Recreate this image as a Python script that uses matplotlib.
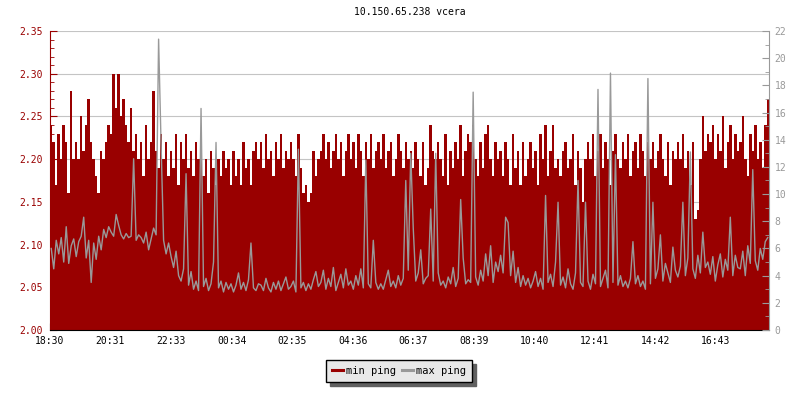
#!/usr/bin/env python3
"""Ping chart: min ping (filled, left axis) and max ping (line, right axis)."""

import numpy as np
import matplotlib
matplotlib.use("Agg")
matplotlib.rcParams.update({
    "font.family": "monospace",
    "font.monospace": ["DejaVu Sans Mono", "Liberation Mono"],
})
import matplotlib.pyplot as plt
import matplotlib.ticker as mticker
from matplotlib.lines import Line2D

TITLE = "10.150.65.238 vcera"

# 5-minute samples from 18:30, 12 per hour
STEP_MIN = 5

# min ping (left axis)
min_ping = [
    2.24, 2.22, 2.17, 2.23, 2.20, 2.24, 2.22, 2.16, 2.28, 2.20, 2.22, 2.20,
    2.25, 2.21, 2.24, 2.27, 2.22, 2.20, 2.18, 2.16, 2.21, 2.20, 2.22, 2.24,
    2.23, 2.30, 2.26, 2.30, 2.25, 2.27, 2.24, 2.22, 2.26, 2.21, 2.23, 2.20,
    2.22, 2.18, 2.24, 2.20, 2.22, 2.28, 2.21, 2.19, 2.23, 2.20, 2.22, 2.18,
    2.21, 2.19, 2.23, 2.17, 2.22, 2.20, 2.23, 2.19, 2.21, 2.18, 2.22, 2.20,
    2.22, 2.18, 2.20, 2.16, 2.21, 2.19, 2.17, 2.20, 2.18, 2.21, 2.19, 2.20,
    2.17, 2.21, 2.18, 2.20, 2.17, 2.22, 2.19, 2.20, 2.17, 2.21, 2.22, 2.20,
    2.22, 2.19, 2.23, 2.20, 2.21, 2.18, 2.22, 2.20, 2.23, 2.19, 2.21, 2.20,
    2.22, 2.20, 2.18, 2.23, 2.19, 2.16, 2.17, 2.15, 2.16, 2.21, 2.18, 2.20,
    2.21, 2.23, 2.20, 2.22, 2.19, 2.21, 2.23, 2.20, 2.22, 2.18, 2.21, 2.23,
    2.20, 2.22, 2.19, 2.23, 2.21, 2.18, 2.22, 2.20, 2.23, 2.19, 2.21, 2.22,
    2.20, 2.23, 2.19, 2.21, 2.22, 2.18, 2.20, 2.23, 2.21, 2.19, 2.22, 2.20,
    2.21, 2.19, 2.22, 2.20, 2.18, 2.22, 2.17, 2.19, 2.24, 2.21, 2.20, 2.22,
    2.20, 2.18, 2.23, 2.17, 2.21, 2.19, 2.22, 2.20, 2.24, 2.18, 2.21, 2.23,
    2.22, 2.24, 2.20, 2.18, 2.22, 2.19, 2.23, 2.24, 2.20, 2.18, 2.22, 2.20,
    2.21, 2.18, 2.22, 2.20, 2.17, 2.23, 2.19, 2.21, 2.17, 2.22, 2.18, 2.20,
    2.22, 2.19, 2.21, 2.17, 2.23, 2.20, 2.24, 2.18, 2.21, 2.24, 2.19, 2.20,
    2.18, 2.21, 2.22, 2.19, 2.20, 2.23, 2.17, 2.21, 2.19, 2.15, 2.20, 2.22,
    2.20, 2.23, 2.18, 2.21, 2.23, 2.19, 2.22, 2.20, 2.17, 2.21, 2.23, 2.20,
    2.19, 2.22, 2.20, 2.23, 2.18, 2.21, 2.22, 2.19, 2.23, 2.21, 2.18, 2.22,
    2.20, 2.22, 2.19, 2.21, 2.23, 2.20, 2.18, 2.22, 2.17, 2.21, 2.20, 2.22,
    2.20, 2.23, 2.19, 2.21, 2.17, 2.22, 2.13, 2.14, 2.20, 2.25, 2.21, 2.23,
    2.22, 2.24, 2.20, 2.23, 2.21, 2.25, 2.19, 2.22, 2.24, 2.20, 2.23, 2.21,
    2.22, 2.25, 2.20, 2.18, 2.23, 2.21, 2.24, 2.20, 2.22, 2.19, 2.24, 2.27,
]

# max ping (right axis)
max_ping = [
    6.0, 4.5, 6.6, 5.6, 6.8, 5.0, 7.6, 4.9, 6.2, 6.7, 5.4, 6.5,
    6.9, 8.3, 5.3, 6.6, 3.5, 6.4, 5.2, 6.9, 5.9, 7.4, 6.8, 7.6,
    7.2, 6.9, 8.5, 7.7, 7.0, 6.7, 7.1, 6.8, 6.9, 12.6, 6.6, 7.0,
    6.8, 6.4, 7.2, 5.9, 6.7, 7.5, 7.0, 21.4, 13.6, 6.6, 5.6, 6.4,
    5.4, 4.6, 5.8, 4.0, 3.6, 4.5, 11.5, 3.3, 4.3, 3.0, 3.6, 2.9,
    16.3, 3.2, 3.8, 2.9, 3.4, 5.0, 13.8, 3.1, 3.6, 2.8, 3.5, 3.0,
    3.4, 2.8, 3.3, 4.2, 3.0, 3.5, 2.9, 3.7, 6.4, 3.1, 2.9, 3.4,
    3.3, 2.9, 3.8, 3.1, 2.8, 3.5, 3.0, 3.6, 2.9, 3.4, 3.9, 3.0,
    3.2, 3.6, 2.8, 13.3, 3.1, 3.5, 2.9, 3.4, 3.0, 3.7, 4.3, 3.2,
    3.5, 4.4, 3.0, 3.8, 3.2, 4.6, 2.9, 3.5, 4.1, 3.1, 4.5, 3.3,
    3.6, 3.0, 4.0, 3.3, 4.5, 3.1, 12.5, 3.4, 3.1, 6.6, 3.5, 3.0,
    3.4, 3.0, 3.7, 4.4, 3.2, 3.6, 3.1, 4.0, 3.3, 3.8, 11.0, 4.4,
    13.0, 7.5, 3.6, 4.2, 5.9, 3.4, 3.8, 4.0, 8.9, 3.6, 13.0, 4.2,
    3.3, 3.6, 3.1, 3.9, 3.4, 4.6, 3.2, 3.8, 9.6, 5.3, 3.4, 3.7,
    3.5, 17.5, 3.9, 3.3, 4.4, 3.6, 5.6, 4.0, 6.2, 3.5, 5.0, 4.3,
    5.5, 4.2, 8.3, 7.9, 4.0, 5.8, 3.5, 4.6, 3.2, 4.0, 3.3, 3.8,
    3.1, 3.6, 4.3, 3.2, 3.8, 3.0, 9.9, 3.5, 4.1, 3.2, 5.0, 9.4,
    3.3, 3.9, 3.1, 4.5, 3.4, 3.0, 4.2, 11.0, 3.5, 3.2, 9.4, 3.6,
    3.0, 4.1, 3.4, 17.7, 3.2, 3.8, 4.4, 3.1, 18.9, 3.5, 12.9, 3.3,
    4.0, 3.2, 3.6, 3.1, 3.8, 6.5, 3.4, 4.0, 3.2, 3.6, 3.0, 18.5,
    3.4, 9.4, 3.8, 4.5, 7.0, 3.6, 4.9, 4.2, 3.5, 6.1, 4.4, 3.9,
    4.7, 9.4, 4.0, 5.3, 13.1, 4.5, 3.8, 5.5, 4.2, 7.2, 4.6, 5.0,
    4.1, 5.4, 3.6, 4.8, 5.6, 3.9, 5.2, 4.4, 8.3, 4.0, 5.5, 4.6,
    4.5, 5.8, 4.0, 6.2, 4.9, 11.8, 5.1, 4.4, 6.0, 5.2, 6.5, 6.8,
]

tick_minutes = [0, 121, 243, 364, 485, 606, 727, 849, 970, 1091, 1212, 1333]
tick_labels = ["18:30", "20:31", "22:33", "00:34", "02:35", "04:36",
               "06:37", "08:39", "10:40", "12:41", "14:42", "16:43"]

C_MIN = "#990000"
C_MAX = "#999999"
C_GRID = "#c4c4c4"
FS = 7


def main():
    n = len(min_ping)
    edges = np.arange(n + 1) * STEP_MIN
    centers = edges[:-1] + STEP_MIN / 2

    fig = plt.figure(figsize=(8, 4), dpi=100)
    fig.patch.set_facecolor("white")
    ax = fig.add_axes([50 / 800, 1 - 330 / 400, 719 / 800, 299 / 400])
    ax2 = ax.twinx()

    ax.stairs(min_ping, edges, baseline=2.0, fill=True, color=C_MIN,
              linewidth=0, zorder=2)
    ax2.plot(centers, max_ping, color=C_MAX, linewidth=1.0, zorder=3)

    ax.set_xlim(0, edges[-1])
    ax.set_ylim(2.0, 2.35)
    ax2.set_ylim(0, 22)

    # left axis
    ax.yaxis.set_major_locator(mticker.MultipleLocator(0.05))
    ax.yaxis.set_minor_locator(mticker.MultipleLocator(0.01))
    ax.yaxis.set_major_formatter(mticker.FormatStrFormatter("%.2f"))
    ax.tick_params(axis="y", which="major", direction="in", length=5,
                   color=C_MIN, labelcolor=C_MIN, labelsize=FS, pad=5)
    ax.tick_params(axis="y", which="minor", direction="in", length=3,
                   color=C_MIN)

    # right axis
    ax2.yaxis.set_major_locator(mticker.MultipleLocator(2))
    ax2.yaxis.set_minor_locator(mticker.MultipleLocator(1))
    ax2.tick_params(axis="y", which="major", direction="in", length=5,
                    color=C_MAX, labelcolor=C_MAX, labelsize=FS, pad=4)
    ax2.tick_params(axis="y", which="minor", direction="in", length=3,
                    color=C_MAX)

    # x axis
    ax.set_xticks(tick_minutes)
    ax.set_xticklabels(tick_labels)
    ax.tick_params(axis="x", direction="in", length=5, color="black",
                   labelsize=FS, pad=4)

    ax.yaxis.grid(True, color=C_GRID, linewidth=0.8, zorder=0)
    ax.set_axisbelow(True)

    for a in (ax, ax2):
        a.spines["top"].set_visible(False)
    ax.spines["left"].set_color(C_MIN)
    ax.spines["right"].set_visible(False)
    ax.spines["bottom"].set_color("black")
    ax2.spines["left"].set_visible(False)
    ax2.spines["bottom"].set_visible(False)
    ax2.spines["right"].set_color(C_MAX)

    fig.text((50 + 769) / 2 / 800, 1 - 12 / 400, TITLE, ha="center",
             va="center", fontsize=FS)

    handles = [
        Line2D([0], [0], color=C_MIN, linewidth=2.2, label="min ping"),
        Line2D([0], [0], color=C_MAX, linewidth=2.2, label="max ping"),
    ]
    fig.legend(handles=handles, loc="center", ncol=2,
               bbox_to_anchor=(399 / 800, 1 - 371 / 400),
               fontsize=7.5, frameon=True, fancybox=False,
               facecolor="#e8e8e8", edgecolor="black", framealpha=1,
               shadow={"ox": 3, "oy": -3, "color": "#606060", "alpha": 1},
               handlelength=1.1, handletextpad=0.3, columnspacing=0.5,
               borderpad=0.55, borderaxespad=0)

    fig.savefig("out.png", dpi=100, facecolor="white")
    plt.close(fig)


if __name__ == "__main__":
    main()
